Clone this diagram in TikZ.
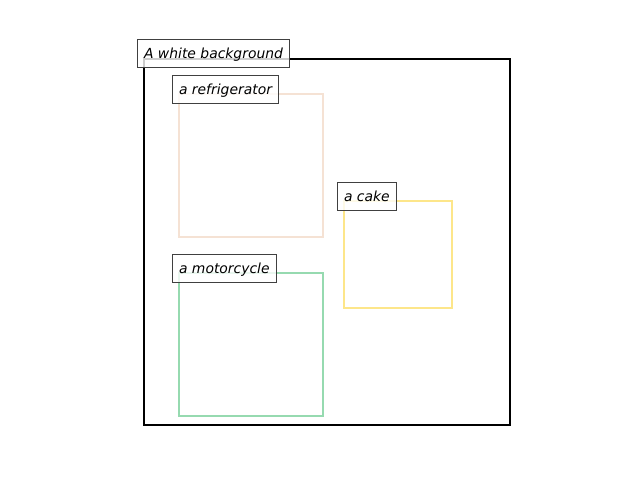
\documentclass[tikz,border=0pt]{standalone}
\usepackage{fontspec}
\setmainfont{DejaVu Sans}
\begin{document}
\begin{tikzpicture}[x=1pt,y=-1pt,
  region/.style={line width=2.2pt},
  tag/.style={draw=black!75, line width=1.1pt, fill=white, fill opacity=0.8, text opacity=1,
    anchor=south west, inner xsep=6.5pt, inner ysep=0pt, minimum height=28pt,
    text height=13pt, text depth=2pt,
    font=\fontsize{13.9}{16}\selectfont\itshape}]
  \definecolor{fridge}{RGB}{245,226,212}
  \definecolor{moto}{RGB}{150,218,176}
  \definecolor{cake}{RGB}{253,230,138}
  \useasboundingbox (0,0) rectangle (640,480);
  % region outlines
  \draw[region, black] (144,59) rectangle (510,425);
  \draw[region, fridge] (179,94) rectangle (323,237);
  \draw[region, cake] (344,201) rectangle (452,308);
  \draw[region, moto] (179,273) rectangle (323,416);
  % captions
  \node[tag] (bg) at (137,68) {A white background};
  \node[tag] (fr) at (172,104) {a refrigerator};
  \node[tag] (ck) at (337,211) {a cake};
  \node[tag] (mc) at (172,283) {a motorcycle};
\end{tikzpicture}
\end{document}
